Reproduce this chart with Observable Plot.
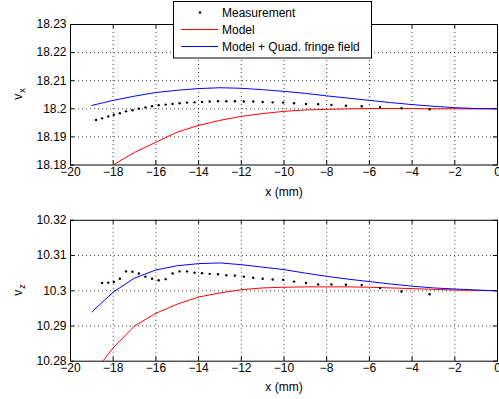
<!DOCTYPE html>
<html>
<head>
<meta charset="utf-8">
<script src="https://cdn.jsdelivr.net/npm/d3@7"></script>
<script src="https://cdn.jsdelivr.net/npm/@observablehq/plot@0.6"></script>
<style>
  html, body { margin: 0; padding: 0; background: #fff; }
  #chart { position: relative; width: 499px; height: 399px; font-family: "Liberation Sans", Arial, Helvetica, sans-serif; }
  #chart svg { position: absolute; left: 0; overflow: visible; }
</style>
</head>
<body>
<div id="chart"></div>
<script>
// ---- data ----
const xTicks = [-20, -18, -16, -14, -12, -10, -8, -6, -4, -2, 0];
const yTicksTop = [18.18, 18.19, 18.2, 18.21, 18.22, 18.23];
const yTicksBottom = [10.28, 10.29, 10.3, 10.31, 10.32];
const xLabel = "x (mm)";
const legendLabels = ["Measurement", "Model", "Model + Quad. fringe field"];

// measurement positions (mm)
const measXTop = [-18.80, -18.52, -18.23, -17.97, -17.69, -17.40, -17.10, -16.80, -16.49, -16.18, -15.87, -15.54, -15.22, -14.89, -14.54, -14.19, -13.84, -13.48, -13.09, -12.70, -12.30, -11.88, -11.44, -11.00, -10.53, -10.04, -9.53, -8.97, -8.40, -7.78, -7.10, -6.36, -5.50, -4.50, -3.18];
const measVx = [18.1960, 18.1966, 18.1973, 18.1979, 18.1984, 18.1991, 18.1995, 18.2000, 18.2005, 18.2009, 18.2013, 18.2015, 18.2017, 18.2020, 18.2022, 18.2023, 18.2024, 18.2026, 18.2027, 18.2027, 18.2027, 18.2026, 18.2026, 18.2024, 18.2023, 18.2022, 18.2020, 18.2017, 18.2016, 18.2014, 18.2011, 18.2009, 18.2006, 18.2002, 18.1998];
const measXBottom = [-18.52, -18.23, -17.97, -17.69, -17.40, -17.10, -16.80, -16.49, -16.18, -15.87, -15.54, -15.22, -14.89, -14.54, -14.19, -13.84, -13.48, -13.09, -12.70, -12.30, -11.88, -11.44, -11.00, -10.53, -10.04, -9.53, -8.97, -8.40, -7.78, -7.10, -6.36, -5.50, -4.50, -3.18];
const measVz = [10.3022, 10.3023, 10.3025, 10.3034, 10.3055, 10.3054, 10.3049, 10.3040, 10.3034, 10.3030, 10.3033, 10.3049, 10.3055, 10.3055, 10.3051, 10.3050, 10.3048, 10.3047, 10.3044, 10.3043, 10.3040, 10.3037, 10.3034, 10.3032, 10.3031, 10.3026, 10.3022, 10.3018, 10.3018, 10.3017, 10.3016, 10.3008, 10.2998, 10.2990];

// model curves
const modelX = [-19, -18, -17, -16, -15, -14, -13, -12, -11, -10, -9, -8, -7, -6, -5, -4, -3, -2, -1, 0];
const modelVx = [18.1757, 18.1800, 18.1845, 18.1881, 18.1917, 18.1941, 18.1959, 18.1973, 18.1983, 18.1991, 18.1996, 18.1998, 18.2000, 18.2001, 18.2001, 18.2001, 18.2000, 18.2000, 18.2000, 18.2000];
const fringeVx = [18.2012, 18.2030, 18.2045, 18.2058, 18.2066, 18.2072, 18.2075, 18.2073, 18.2068, 18.2062, 18.2055, 18.2046, 18.2038, 18.2030, 18.2022, 18.2015, 18.2009, 18.2004, 18.2001, 18.2000];
const modelVz = [10.2760, 10.2838, 10.2900, 10.2936, 10.2962, 10.2982, 10.2994, 10.3003, 10.3008, 10.3010, 10.3011, 10.3011, 10.3011, 10.3010, 10.3008, 10.3006, 10.3004, 10.3002, 10.3001, 10.3000];
const fringeVz = [10.2940, 10.2996, 10.3036, 10.3059, 10.3071, 10.3077, 10.3079, 10.3074, 10.3067, 10.3060, 10.3050, 10.3041, 10.3033, 10.3026, 10.3019, 10.3013, 10.3008, 10.3005, 10.3002, 10.3000];

const FONT = '"Liberation Sans", Arial, Helvetica, sans-serif';
const W = 499;
const ML = 70, MR = 2, TICK = 4;

function panel({top, height, marginTop, marginBottom, yTicks, mx, my, model, fringe, sub, labelY, labelDy}) {
  const ph = height - marginTop - marginBottom;
  const pw = W - ML - MR;
  const meas = mx.map((x, i) => ({x, y: my[i]}));
  const mod = modelX.map((x, i) => ({x, y: model[i]}));
  const fr = modelX.map((x, i) => ({x, y: fringe[i]}));
  const yDom = [yTicks[0], yTicks[yTicks.length - 1]];
  const innerX = xTicks.slice(1, -1);
  const innerY = yTicks.slice(1, -1);
  const grid = {stroke: "black", strokeOpacity: 0.75, strokeDasharray: "1,3", strokeWidth: 1};
  const svg = Plot.plot({
    width: W, height, marginTop, marginBottom, marginLeft: ML, marginRight: MR,
    style: {fontSize: "12px", fontFamily: FONT, color: "black", background: "transparent"},
    x: {domain: [-20, 0]},
    y: {domain: yDom},
    marks: [
      Plot.gridX(innerX, grid),
      Plot.gridY(innerY, grid),
      // inward tick marks
      Plot.tickX(xTicks, {x: d => d, insetTop: ph - TICK, stroke: "black"}),
      Plot.tickX(xTicks, {x: d => d, insetBottom: ph - TICK, stroke: "black"}),
      Plot.tickY(yTicks, {y: d => d, insetRight: pw - TICK, stroke: "black"}),
      Plot.tickY(yTicks, {y: d => d, insetLeft: pw - TICK, stroke: "black"}),
      Plot.line(mod, {x: "x", y: "y", stroke: "#ff0000", strokeWidth: 1, clip: true}),
      Plot.line(fr, {x: "x", y: "y", stroke: "#0000ff", strokeWidth: 1, clip: true}),
      Plot.dot(meas, {x: "x", y: "y", r: 1.2, fill: "black", stroke: null}),
      Plot.frame({stroke: "black", strokeWidth: 1}),
      Plot.axisX({ticks: xTicks, tickSize: 0, tickPadding: 2, label: null, fontSize: 12}),
      Plot.axisY({ticks: yTicks, tickSize: 0, tickPadding: 4, label: null, fontSize: 12, tickFormat: d => String(d)}),
      Plot.text([xLabel], {text: d => d, frameAnchor: "bottom", dy: labelDy, lineAnchor: "middle", fontSize: 12})
    ]
  });
  svg.style.top = top + "px";
  // y label with subscript
  const s = d3.select(svg);
  const t = s.append("text")
    .attr("transform", `translate(22,${labelY}) rotate(-90)`)
    .attr("text-anchor", "middle")
    .attr("font-family", FONT)
    .attr("font-size", 12)
    .attr("fill", "black");
  t.append("tspan").text("v");
  t.append("tspan").attr("font-size", 9).attr("dy", 3).attr("dx", 1).text(sub);
  return svg;
}

const chart = document.getElementById("chart");
const topSvg = panel({top: 0, height: 200, marginTop: 24, marginBottom: 35.5, yTicks: yTicksTop,
  mx: measXTop, my: measVx, model: modelVx, fringe: fringeVx, sub: "x", labelY: 94, labelDy: 27});
const botSvg = panel({top: 200, height: 199, marginTop: 19.8, marginBottom: 38.3, yTicks: yTicksBottom,
  mx: measXBottom, my: measVz, model: modelVz, fringe: fringeVz, sub: "z", labelY: 90, labelDy: 26});
chart.appendChild(topSvg);
chart.appendChild(botSvg);

// legend
const lg = d3.select(topSvg).append("g").attr("font-family", FONT).attr("font-size", 12).attr("text-anchor", "start");
lg.append("rect").attr("x", 173.5).attr("y", 1.5).attr("width", 198).attr("height", 56.5)
  .attr("fill", "white").attr("stroke", "black").attr("stroke-width", 1);
const rowsY = [12.5, 29.5, 46.5];
const colors = [null, "#ff0000", "#0000ff"];
legendLabels.forEach((lab, i) => {
  if (i === 0) {
    lg.append("circle").attr("cx", 200).attr("cy", rowsY[i]).attr("r", 1.2).attr("fill", "black");
  } else {
    lg.append("line").attr("x1", 181).attr("x2", 218).attr("y1", rowsY[i]).attr("y2", rowsY[i])
      .attr("stroke", colors[i]).attr("stroke-width", 1);
  }
  lg.append("text").attr("x", 222).attr("y", rowsY[i]).attr("dy", "0.35em")
    .attr("text-anchor", "start").attr("fill", "black").text(lab);
});
</script>
</body>
</html>
